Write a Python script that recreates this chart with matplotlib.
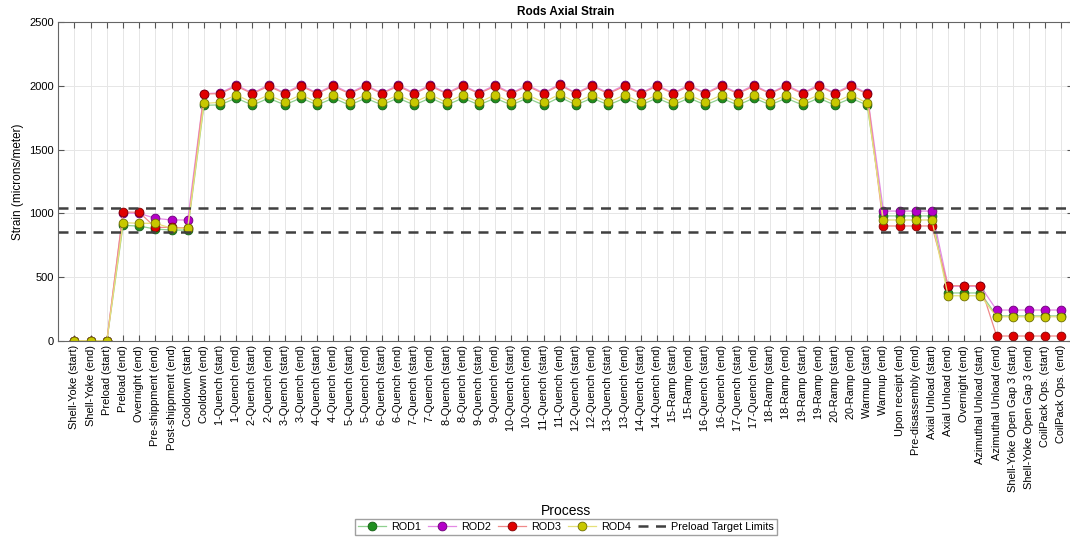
import numpy as np
import matplotlib
matplotlib.use("Agg")
import matplotlib.pyplot as plt

plt.rcParams['font.family'] = ['Liberation Sans', 'DejaVu Sans']

steps = ['Shell-Yoke (start)', 'Shell-Yoke (end)', 'Preload (start)', 'Preload (end)',
         'Overnight (end)', 'Pre-shippment (end)', 'Post-shippment (end)',
         'Cooldown (start)', 'Cooldown (end)',
         '1-Quench (start)', '1-Quench (end)', '2-Quench (start)', '2-Quench (end)',
         '3-Quench (start)', '3-Quench (end)', '4-Quench (start)', '4-Quench (end)',
         '5-Quench (start)', '5-Quench (end)', '6-Quench (start)', '6-Quench (end)',
         '7-Quench (start)', '7-Quench (end)', '8-Quench (start)', '8-Quench (end)',
         '9-Quench (start)', '9-Quench (end)', '10-Quench (start)', '10-Quench (end)',
         '11-Quench (start)', '11-Quench (end)', '12-Quench (start)', '12-Quench (end)',
         '13-Quench (start)', '13-Quench (end)', '14-Quench (start)', '14-Quench (end)',
         '15-Ramp (start)', '15-Ramp (end)', '16-Quench (start)', '16-Quench (end)',
         '17-Quench (start)', '17-Quench (end)', '18-Ramp (start)', '18-Ramp (end)',
         '19-Ramp (start)', '19-Ramp (end)', '20-Ramp (start)', '20-Ramp (end)',
         'Warmup (start)', 'Warmup (end)', 'Upon receipt (end)', 'Pre-disassembly (end)',
         'Axial Unload (start)', 'Axial Unload (end)', 'Overnight (end)',
         'Azimuthal Unload (start)', 'Azimuthal Unload (end)',
         'Shell-Yoke Open Gap 3 (start)', 'Shell-Yoke Open Gap 3 (end)',
         'CoilPack Ops. (start)', 'CoilPack Ops. (end)']

rod1 = [0, 0, 0, 906, 900, 877, 869, 869, 1848,
        1852, 1905, 1850, 1904, 1852, 1906, 1851, 1905, 1850, 1904,
        1852, 1905, 1851, 1906, 1850, 1905, 1852, 1904, 1851, 1905,
        1850, 1912, 1852, 1905, 1851, 1904, 1850, 1905, 1852, 1905,
        1851, 1904, 1850, 1905, 1852, 1904, 1851, 1905, 1850, 1904,
        1850, 980, 980, 980, 980, 375, 375, 375, 195, 195, 195, 195, 195]
rod2 = [0, 0, 0, 1002, 1000, 961, 948, 948, 1940,
        1945, 2008, 1944, 2008, 1945, 2009, 1944, 2008, 1945, 2008,
        1944, 2008, 1945, 2009, 1944, 2008, 1945, 2008, 1944, 2008,
        1945, 2016, 1944, 2008, 1945, 2008, 1944, 2008, 1945, 2008,
        1944, 2008, 1945, 2008, 1944, 2008, 1945, 2008, 1944, 2008,
        1942, 1018, 1018, 1018, 1018, 428, 428, 428, 241, 241, 241, 241, 241]
rod3 = [0, 0, 0, 1011, 1008, 890, 890, 886, 1937,
        1940, 1998, 1940, 1998, 1941, 1999, 1940, 1998, 1940, 1998,
        1941, 1998, 1940, 1999, 1940, 1998, 1941, 1998, 1940, 1998,
        1940, 2006, 1941, 1998, 1940, 1998, 1940, 1998, 1941, 1998,
        1940, 1998, 1940, 1998, 1941, 1998, 1940, 1998, 1940, 1998,
        1937, 901, 901, 901, 901, 432, 432, 432, 37, 37, 37, 37, 37]
rod4 = [0, 0, 0, 927, 922, 922, 883, 883, 1863,
        1872, 1930, 1871, 1930, 1872, 1931, 1871, 1930, 1872, 1930,
        1871, 1930, 1872, 1931, 1871, 1930, 1872, 1930, 1871, 1930,
        1872, 1936, 1871, 1930, 1872, 1930, 1871, 1930, 1872, 1930,
        1871, 1930, 1872, 1930, 1871, 1930, 1872, 1930, 1871, 1930,
        1866, 948, 948, 948, 948, 353, 353, 353, 188, 188, 188, 188, 188]
rods = ['ROD1', 'ROD2', 'ROD3', 'ROD4']
limits = [855, 1045]

x = np.arange(1, len(steps) + 1)

fig = plt.figure(figsize=(10.7, 5.38), dpi=100)
ax = fig.add_axes([0.0545, 0.3667, 0.948, 0.5918])

styles = [('#8fd08f', '#1f8f1f', '#145c14'),
          ('#e48ae4', '#b400c8', '#6a0075'),
          ('#f08a8a', '#e00000', '#800000'),
          ('#e6e07a', '#c8c800', '#6e6e00')]
for vals, name, (lc, fc, ec) in zip([rod1, rod2, rod3, rod4], rods, styles):
    ax.plot(x, vals, '-o', color=lc, lw=0.9, ms=6.3, mfc=fc, mec=ec, mew=0.6, label=name)

for i, lim in enumerate(limits):
    ax.axhline(lim, color='#404040', ls='--', lw=1.8, dashes=(4, 3),
               label='Preload Target Limits' if i == 0 else None)

ax.set_xlim(0, 62.7)
ax.set_ylim(0, 2500)
ax.set_yticks([0, 500, 1000, 1500, 2000, 2500])
ax.set_xticks(x)
ax.set_xticklabels(steps, rotation=90, fontsize=7.9)
ax.tick_params(axis='y', labelsize=8)
ax.tick_params(direction='in', top=True, right=True, length=4, color='#555555', pad=3)
ax.grid(True, color='#e6e6e6', lw=0.7)
ax.set_axisbelow(True)
for s in ax.spines.values():
    s.set_color('#666666')
    s.set_linewidth(0.8)

ax.set_title('Rods Axial Strain', fontsize=8.5, fontweight='bold', pad=5)
ax.set_ylabel('Strain (microns/meter)', fontsize=8.5, labelpad=4)
fig.text(0.529, 0.05, 'Process', ha='center', va='center', fontsize=10)
fig.legend(loc='center', bbox_to_anchor=(0.529, 0.0204), ncol=5, fontsize=7.8,
           frameon=True, fancybox=False, edgecolor='#888888', handlelength=2.6,
           columnspacing=0.6, handletextpad=0.5, borderpad=0.25, borderaxespad=0)

fig.savefig('out.png', dpi=100)
